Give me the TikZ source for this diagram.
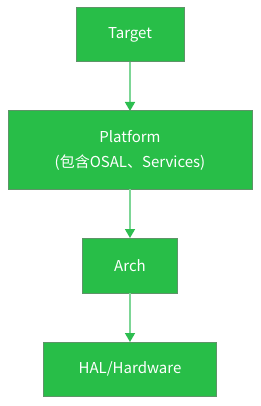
\documentclass[tikz,border=0pt]{standalone}
\usepackage{fontspec}
\setmainfont{Noto Sans CJK SC}
\usetikzlibrary{arrows.meta,positioning}
\definecolor{boxgreen}{HTML}{28BE48}
\definecolor{boxedge}{HTML}{5E9468}
\definecolor{linkgreen}{HTML}{7DD696}
\definecolor{tipgreen}{HTML}{2DBE50}

\begin{document}
\begin{tikzpicture}[
    x=1pt, y=-1pt,
    node distance=49pt,
    box/.style={draw=boxedge, line width=1pt, fill=boxgreen, text=white, align=center, inner sep=0pt, outer sep=0pt, font=\fontsize{15}{25}\selectfont},
    link/.style={draw=linkgreen, line width=1.6pt, -{Triangle[length=9pt, width=10pt, color=tipgreen]}}
]
\useasboundingbox (0,0) rectangle (260,406);
\node[box, minimum width=108pt, minimum height=54pt] (target) at (130,35) {Target};
\node[box, below=of target, minimum width=244pt, minimum height=78pt] (platform) {Platform\\(包含OSAL、Services)};
\node[box, below=of platform, minimum width=95pt, minimum height=55pt] (arch) {Arch};
\node[box, below=of arch, minimum width=173pt, minimum height=54pt] (hal) {HAL/Hardware};
\draw[link] (target) -- (platform);
\draw[link] (platform) -- (arch);
\draw[link] (arch) -- (hal);
\end{tikzpicture}
\end{document}
